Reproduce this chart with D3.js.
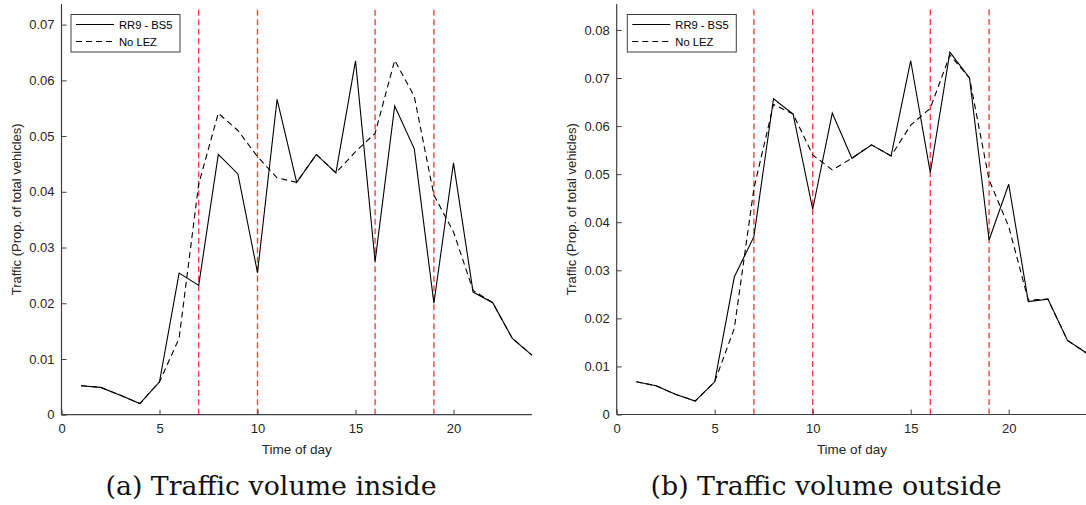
<!DOCTYPE html>
<html><head><meta charset="utf-8">
<script src="https://cdn.jsdelivr.net/npm/d3@7"></script>
<style>body{margin:0;background:#fff;} svg{display:block;}</style>
</head><body>
<svg id="c" width="1086" height="505"></svg>
<script>
const hours = d3.range(1, 25);
const insideRR9 = [0.0052,0.0049,0.0035,0.0020,0.0059,0.0254,0.0232,0.0467,0.0432,0.0255,0.0566,0.0417,0.0467,0.0434,0.0635,0.0275,0.0554,0.0477,0.0200,0.0452,0.0220,0.0201,0.0137,0.0107];
const insideNoLEZ = [0.0052,0.0049,0.0035,0.0020,0.0059,0.0137,0.0414,0.0541,0.0510,0.0463,0.0425,0.0417,0.0467,0.0434,0.0472,0.0505,0.0636,0.0571,0.0394,0.0328,0.0223,0.0201,0.0137,0.0107];
const outsideRR9 = [0.0068,0.0060,0.0042,0.0028,0.0068,0.0286,0.0370,0.0657,0.0625,0.0427,0.0627,0.0533,0.0561,0.0538,0.0736,0.0503,0.0754,0.0700,0.0363,0.0479,0.0235,0.0240,0.0154,0.0127];
const outsideNoLEZ = [0.0068,0.0060,0.0042,0.0028,0.0068,0.0179,0.0470,0.0645,0.0625,0.0540,0.0509,0.0533,0.0561,0.0538,0.0602,0.0637,0.0748,0.0700,0.0488,0.0391,0.0238,0.0240,0.0154,0.0127];
const peakHours = [7, 10, 16, 19];
const xTicks = [0, 5, 10, 15, 20];
const insideYTicks = [0,0.01,0.02,0.03,0.04,0.05,0.06,0.07];
const outsideYTicks = [0,0.01,0.02,0.03,0.04,0.05,0.06,0.07,0.08];
const seriesNames = ["RR9 - BS5", "No LEZ"];
const captions = ["(a) Traffic volume inside", "(b) Traffic volume outside"];
const yLabel = "Traffic (Prop. of total vehicles)";
const xLabel = "Time of day";

const svg = d3.select("#c");
const axisColor = "#404040";
const textColor = "#262626";
const font = "'Liberation Sans', Arial, sans-serif";

function panel(cfg) {
  const x = d3.scaleLinear().domain([0, 24]).range([cfg.x0, cfg.x1]);
  const y = d3.scaleLinear().domain([0, cfg.ymax]).range([cfg.y0, 4]);
  const g = svg.append("g");

  g.selectAll(".peak").data(peakHours).enter().append("line")
    .attr("x1", d => x(d)).attr("x2", d => x(d))
    .attr("y1", y(0)).attr("y2", 9)
    .attr("stroke", "#ff2020").attr("stroke-width", 1.4)
    .attr("stroke-dasharray", "6,3.5").attr("opacity", 0.85);

  const line = d3.line().x((d, i) => x(hours[i])).y(d => y(d));
  g.append("path").datum(cfg.b).attr("d", line)
    .attr("fill", "none").attr("stroke", "#000").attr("stroke-width", 1.1)
    .attr("stroke-dasharray", "6,4");
  g.append("path").datum(cfg.a).attr("d", line)
    .attr("fill", "none").attr("stroke", "#000").attr("stroke-width", 1.1);

  const xa = g.append("g").attr("transform", `translate(0,${y(0)})`)
    .call(d3.axisBottom(x).tickValues(xTicks).tickSizeInner(-5).tickSizeOuter(0).tickPadding(9.5));
  const ya = g.append("g").attr("transform", `translate(${x(0)},0)`)
    .call(d3.axisLeft(y).tickValues(cfg.yticks).tickFormat(d => d === 0 ? "0" : d3.format(".2f")(d)).tickSizeInner(-5).tickSizeOuter(0).tickPadding(7));
  [xa, ya].forEach(a => {
    a.select(".domain").attr("stroke", axisColor).attr("stroke-width", 1.2);
    a.selectAll(".tick line").attr("stroke", axisColor).attr("stroke-width", 1);
    a.selectAll("text").attr("fill", textColor).attr("font-family", font).attr("font-size", 13);
  });
  ya.select(".domain").attr("d", `M0,${y(0)}V4`);
  xa.select(".domain").attr("d", `M${x(0)},0H${x(24)}`);

  g.append("text").attr("transform", `translate(${x(0) - 41},${(y(0) + 4) / 2}) rotate(-90)`)
    .attr("text-anchor", "middle").attr("font-family", font).attr("font-size", 13)
    .attr("fill", textColor).text(yLabel);
  g.append("text").attr("x", (cfg.x0 + cfg.x1) / 2).attr("y", 454)
    .attr("text-anchor", "middle").attr("font-family", font).attr("font-size", 13.5)
    .attr("fill", textColor).text(xLabel);

  const lx = cfg.legX, ly = 14.5;
  const lg = g.append("g");
  lg.append("rect").attr("x", lx).attr("y", ly).attr("width", 109).attr("height", 37.5)
    .attr("fill", "#fff").attr("stroke", axisColor).attr("stroke-width", 1);
  seriesNames.forEach((n, i) => {
    const yy = ly + 10 + i * 17;
    lg.append("line").attr("x1", lx + 5).attr("x2", lx + 43).attr("y1", yy).attr("y2", yy)
      .attr("stroke", "#000").attr("stroke-width", 1.1).attr("stroke-dasharray", i ? "6,4" : null);
    lg.append("text").attr("x", lx + 48).attr("y", yy + 4).attr("font-family", font)
      .attr("font-size", 11.2).attr("fill", "#000").text(n);
  });

  svg.append("text").attr("x", cfg.capX).attr("y", 495).attr("text-anchor", "middle")
    .attr("font-family", "'DejaVu Serif', 'Liberation Serif', serif").attr("font-size", 26)
    .attr("textLength", cfg.capW).attr("lengthAdjust", "spacingAndGlyphs")
    .attr("fill", "#111").text(cfg.caption);
}

panel({x0: 61.5, x1: 531.9, y0: 414.7, ymax: 0.0737, a: insideRR9, b: insideNoLEZ,
       yticks: insideYTicks, legX: 71, caption: captions[0], capX: 271, capW: 331});
panel({x0: 616.7, x1: 1087.1, y0: 414.5, ymax: 0.0854, a: outsideRR9, b: outsideNoLEZ,
       yticks: outsideYTicks, legX: 627.3, caption: captions[1], capX: 826, capW: 351});
</script>
</body></html>
